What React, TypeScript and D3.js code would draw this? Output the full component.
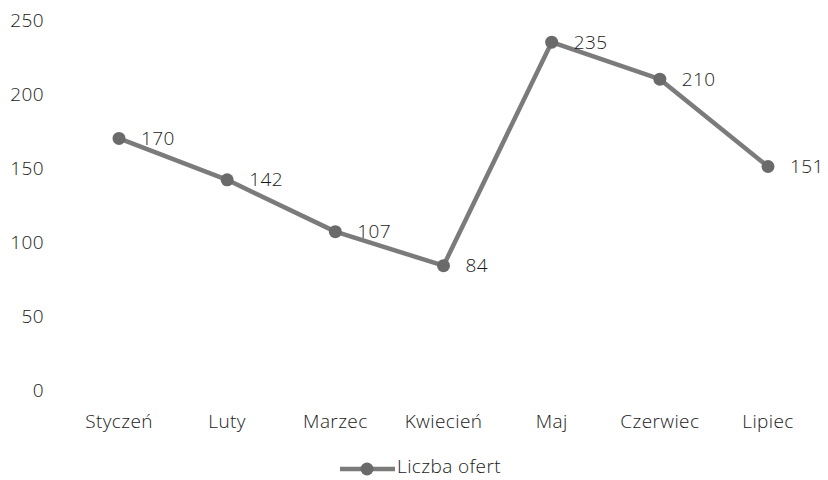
import React, { useEffect, useRef } from 'react';
import * as d3 from 'd3';

const months = ['Styczeń', 'Luty', 'Marzec', 'Kwiecień', 'Maj', 'Czerwiec', 'Lipiec'];
const offers = [170, 142, 107, 84, 235, 210, 151];
const yTicks = [0, 50, 100, 150, 200, 250];
const seriesName = 'Liczba ofert';

const W = 828;
const H = 480;
const FONT = '"Open Sans", "DejaVu Sans", sans-serif';
const FS = 19;
const TEXT = '#1a1a1a';
const LINE = '#7b7b7b';
const DOT = '#6a6a6a';

// shared text styling
const styleText = (sel) => sel
    .attr('dy', '0.35em')
    .attr('font-family', FONT)
    .attr('font-size', FS)
    .attr('font-weight', 300)
    .attr('letter-spacing', 0.4)
    .attr('fill', TEXT);

const App = () => {
    const ref = useRef<SVGSVGElement>(null);

    useEffect(() => {
        const svg = d3.select(ref.current);
        svg.selectAll('*').remove();

        const x = d3.scalePoint<string>().domain(months).range([119, 768]);
        const y = d3.scaleLinear().domain([0, 250]).range([390, 20]);

        // y labels, no axis line or grid
        svg.append('g')
            .selectAll('text')
            .data(yTicks)
            .enter()
            .append('text')
            .attr('x', 44)
            .attr('y', (d) => y(d))
            .attr('text-anchor', 'end')
            .call(styleText)
            .text((d) => d);

        // category labels
        svg.append('g')
            .selectAll('text')
            .data(months)
            .enter()
            .append('text')
            .attr('x', (d) => x(d)!)
            .attr('y', 421)
            .attr('text-anchor', 'middle')
            .call(styleText)
            .text((d) => d);

        const line = d3.line<number>()
            .x((d, i) => x(months[i])!)
            .y((d) => y(d));

        svg.append('path')
            .datum(offers)
            .attr('d', line)
            .attr('fill', 'none')
            .attr('stroke', LINE)
            .attr('stroke-width', 4.5)
            .attr('stroke-linejoin', 'round');

        svg.append('g')
            .selectAll('circle')
            .data(offers)
            .enter()
            .append('circle')
            .attr('cx', (d, i) => x(months[i])!)
            .attr('cy', (d) => y(d))
            .attr('r', 6.5)
            .attr('fill', DOT);

        // value labels to the right of each point
        svg.append('g')
            .selectAll('text')
            .data(offers)
            .enter()
            .append('text')
            .attr('x', (d, i) => x(months[i])! + 22)
            .attr('y', (d) => y(d))
            .call(styleText)
            .text((d) => d);

        // legend
        const lg = svg.append('g');
        lg.append('line')
            .attr('x1', 340)
            .attr('x2', 395)
            .attr('y1', 469)
            .attr('y2', 469)
            .attr('stroke', LINE)
            .attr('stroke-width', 4.5);
        lg.append('circle')
            .attr('cx', 367)
            .attr('cy', 469)
            .attr('r', 6.5)
            .attr('fill', DOT);
        lg.append('text')
            .attr('x', 397)
            .attr('y', 466)
            .call(styleText)
            .text(seriesName);
    }, []);

    return (
        <svg
            ref={ref}
            width={W}
            height={H}
            style={{ position: 'absolute', left: 0, top: 0, background: '#fff' }}
        />
    );
};

export default App;
